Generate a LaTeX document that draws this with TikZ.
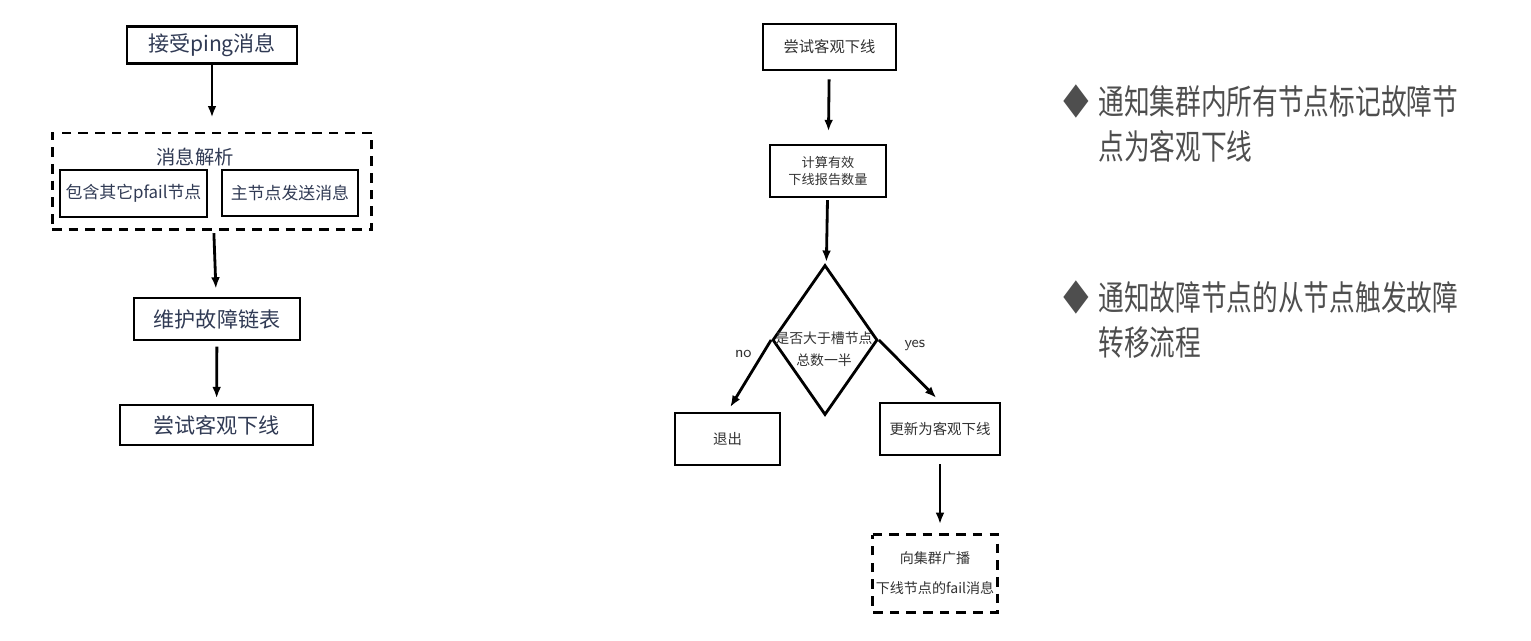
\documentclass[tikz,border=0pt]{standalone}
\usepackage{fontspec}
\newfontfamily\cjk{Noto Sans CJK SC}
\newfontfamily\cjknarrow[FakeStretch = 0.75]{Noto Sans CJK SC}
\usetikzlibrary{arrows.meta, shapes.geometric}

\definecolor{ink}{RGB}{48,58,84}
\definecolor{pencil}{RGB}{50,50,50}
\definecolor{note}{RGB}{78,78,78}

\begin{document}
\begin{tikzpicture}[
        x = 0.02cm, y = -0.02cm,
        > = {Latex[length = 6.5pt, width = 5pt]},
        box/.style = {draw, line width = 1.6pt, inner sep = 0pt, align = center},
        dashline/.style = {line width = 1.7pt, dash pattern = on 5.5pt off 4pt},
        dashbox/.style = {box, dashline},
        flow/.style = {->, line width = 1.6pt},
        lbig/.style = {font = \cjk\fontsize{12}{14}\selectfont, text = ink},
        lsmall/.style = {font = \cjk\fontsize{9.6}{12}\selectfont, text = ink},
        msmall/.style = {font = \cjk\fontsize{8.2}{16}\selectfont, text = pencil, align = center},
        tag/.style = {font = \sffamily\fontsize{9}{10}\selectfont, text = pencil},
        bullet/.style = {font = \cjknarrow\fontsize{19.5}{25.8}\selectfont, text = note}
    ]

        % Frame.
        \useasboundingbox (0, 0) rectangle (1531, 641);

        % Left flow.
        \node[box, lbig, minimum width = 3.4cm, minimum height = 0.74cm] (recv) at (212, 45) {接受ping消息};
        \node[dashbox, minimum width = 6.4cm, minimum height = 1.94cm] (parse) at (212, 181.5) {};
        \node[lsmall, font = \cjk\fontsize{11}{12}\selectfont] (parsetitle) at (195, 157) {消息解析};
        \node[box, lsmall, minimum width = 2.94cm, minimum height = 0.94cm] (pfail) at (133.5, 193.5) {包含其它pfail节点};
        \node[box, lsmall, minimum width = 2.72cm, minimum height = 0.92cm] (master) at (290, 193) {主节点发送消息};
        \node[box, lbig, minimum width = 3.32cm, minimum height = 0.84cm] (keep) at (217, 319) {维护故障链表};
        \node[box, lbig, minimum width = 3.86cm, minimum height = 0.8cm] (tryL) at (216.5, 425) {尝试客观下线};

        \draw[flow, shorten >= 8pt] (recv) -- (parse);
        \draw[flow, shorten < = 1pt, shorten >= 4.5pt] (parse) -- (keep);
        \draw[flow, shorten < = 3pt, shorten >= 3pt] (keep) -- (tryL);

        % Middle flow.
        \node[box, msmall, font = \cjk\fontsize{8.7}{12}\selectfont, minimum width = 2.66cm, minimum height = 0.92cm] (tryM) at (829.5, 47) {尝试客观下线};
        \node[box, msmall, font = \cjk\fontsize{7.5}{10}\selectfont, minimum width = 2.32cm, minimum height = 1.04cm] (count) at (828, 171) {计算有效\\下线报告数量};
        \node[diamond, draw, line width = 1.6pt, inner sep = 0pt, minimum width = 2.1cm, minimum height = 3.0cm] (judge) at (825, 340) {};
        \node[msmall, font = \cjk\fontsize{7.9}{12.5}\selectfont] (judgetxt) at (824, 349) {是否大于槽节点\\总数一半};
        \node[box, msmall, minimum width = 2.1cm, minimum height = 1.04cm] (quit) at (727.5, 439) {退出};
        \node[box, msmall, minimum width = 2.4cm, minimum height = 1.04cm] (upd) at (940, 429) {更新为客观下线};
        \node[msmall, font = \cjk\fontsize{8}{17}\selectfont, inner sep = 0pt, minimum width = 2.48cm, minimum height = 1.54cm] (bcast) at (935, 573.5) {向集群广播\\下线节点的fail消息};
        \draw[dashline] (bcast.north west) -- (bcast.north east) -- (bcast.south east) -- (bcast.south west) -- cycle;

        \draw[flow, shorten < = 4.5pt, shorten >= 7pt] (tryM) -- (count);
        \draw[flow, shorten < = 1pt, shorten >= 2pt] (count) -- (judge);
        \draw[flow, shorten >= 3pt] (judge.west) -- (quit.north) node[tag, pos = 0.2, left = 2pt] {no};
        \draw[flow, shorten >= 3pt] (judge.east) -- (upd.north) node[tag, pos = 0.3, above right = 0pt] {yes};
        \draw[flow, shorten < = 4.5pt, shorten >= 6pt] (upd.south) -- (upd.south |- bcast.north);

        % Notes.
        \node[bullet] (dot1) at (1076, 101) {◆};
        \node[bullet, anchor = north west, inner sep = 0pt, align = left] (note1) at (1098, 85) {通知集群内所有节点标记故障节\\点为客观下线};
        \node[bullet] (dot2) at (1076, 297) {◆};
        \node[bullet, anchor = north west, inner sep = 0pt, align = left] (note2) at (1098, 281) {通知故障节点的从节点触发故障\\转移流程};
    \end{tikzpicture}
\end{document}
